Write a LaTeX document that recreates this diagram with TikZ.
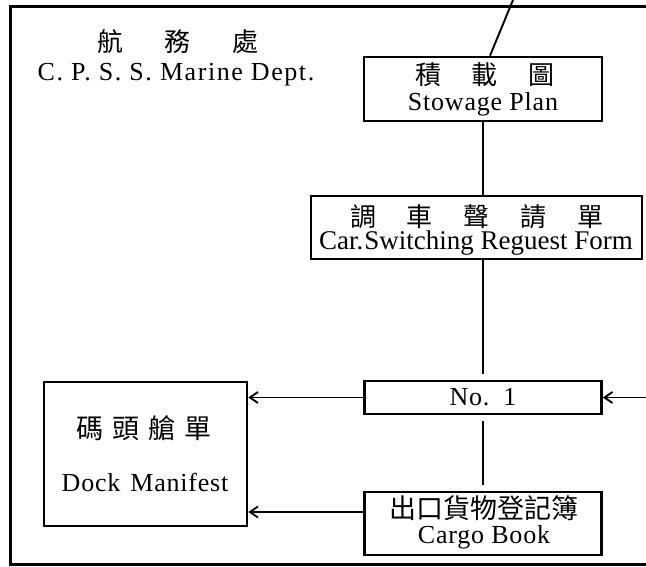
\documentclass[tikz,border=0pt]{standalone}
\usepackage{fontspec}
\setmainfont{Liberation Serif}
\newfontfamily\cjkfont{Noto Sans CJK TC}
\newfontfamily\spacedfont{Liberation Serif}[LetterSpace=3]
\usetikzlibrary{arrows.meta}

\tikzset{
    cp frame/.style={line width=3pt},
    cp box/.style={draw, line width=2.6pt, inner sep=0pt},
    cp link/.style={line width=1.9pt},
    cp arrow/.style={cp link, -{Straight Barb[length=8pt,width=11pt]}},
    cp zh/.style={inner sep=0pt, font=\cjkfont\fontsize{26}{26}\selectfont},
    cp en/.style={inner sep=0pt, font=\spacedfont\fontsize{26}{26}\selectfont},
}
\newcommand{\gap}[1]{\hspace*{#1pt}}

\begin{document}
\begin{tikzpicture}[x=1pt, y=-1pt]
    \useasboundingbox (0,0) rectangle (646,567);
    % outer frame, open on the right
    \draw[cp frame] (646,7) -- (10.5,7) -- (10.5,564) -- (646,564);

    % department heading
    \node[cp zh] (deptzh) at (178,42) {航\gap{42}務\gap{42}處};
    \node[cp en, font=\spacedfont\addfontfeature{LetterSpace=6}\fontsize{26}{26}\selectfont]
        (depten) at (176,75) {C. P. S. S. Marine Dept.};

    % boxes
    \node[cp box, minimum width=238pt, minimum height=64pt] (stow)  at (483,89) {};
    \node[cp box, minimum width=331pt, minimum height=63pt] (carsw) at (476.5,227.5) {};
    \node[cp box, minimum width=237pt, minimum height=33pt] (no1)   at (483,397.5) {};
    \node[cp box, minimum width=237pt, minimum height=63pt] (cargo) at (483,523.5) {};
    \node[cp box, minimum width=203pt, minimum height=144pt] (dock) at (145.5,454) {};

    % box texts
    \node[cp zh] (stowzh) at (485,75) {積\gap{31}載\gap{31}圖};
    \node[cp en] (stowen) at (483,104) {Stowage Plan};
    \node[cp zh] (carswzh) at (477,217) {調\gap{31}車\gap{31}聲\gap{31}請\gap{31}單};
    \node[cp en, font=\fontsize{27}{27}\selectfont] (carswen) at (476,243) {Car.\kern1pt Switching Reguest Form};
    \node[cp en] (no1en) at (483,397.5) {No.\gap{14}1};
    \node[cp zh, font=\cjkfont\fontsize{27}{27}\selectfont] (dockzh) at (144,428) {碼\gap{9}頭\gap{9}艙\gap{9}單};
    \node[cp en] (docken) at (145,482) {Dock\gap{10}Manifest};
    \node[cp zh, font=\cjkfont\fontsize{27}{27}\selectfont] (cargozh) at (484,508) {出口貨物登記簿};
    \node[cp en] (cargoen) at (484,537) {Cargo Book};

    % connectors
    \coordinate (top) at (513,0);
    \coordinate (right) at (646,397.5);
    \draw[cp link] (stow.north -| 490,0) -- (top);
    \draw[cp link] (stow.south) -- (carsw.north -| stow.south);
    \draw[cp link] (carsw.south -| stow.south) -- ([yshift=6pt]no1.north);
    \draw[cp link] ([yshift=-6pt]no1.south) -- ([yshift=6pt]cargo.north);
    \draw[cp arrow] (no1.west) -- (no1.west -| dock.east);
    \draw[cp arrow] (cargo.west |- 0,512) -- (dock.east |- 0,512);
    \draw[cp arrow] (right) -- (no1.east);
\end{tikzpicture}
\end{document}
